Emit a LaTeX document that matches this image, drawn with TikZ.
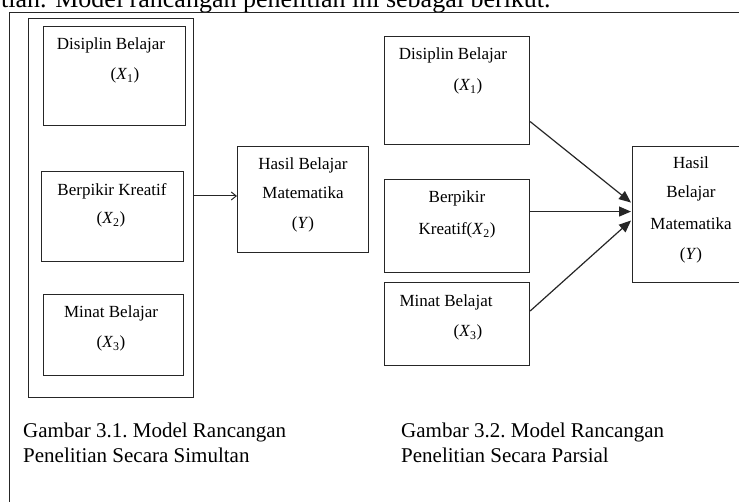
\documentclass[tikz,border=0pt]{standalone}
\usepackage{fontspec}
\setmainfont{Liberation Serif}
\usetikzlibrary{arrows.meta,calc,positioning}

\begin{document}
\begin{tikzpicture}[x=1pt, y=-1pt,
		box/.style={draw=black!85, line width=1.1pt, inner sep=0pt, anchor=north west},
		txt/.style={font=\fontsize{17}{20}\selectfont, anchor=base, inner sep=0pt},
		captxt/.style={font=\fontsize{21}{25}\selectfont, anchor=base west, inner sep=0pt, align=left},
		tri/.style={draw=black!85, line width=1.2pt, -{Triangle[length=12pt,width=10pt]}}]
		\useasboundingbox (0,0) rectangle (739,502);
		\clip (0,0) rectangle (739,502);
		\node[font=\fontsize{26}{30}\selectfont, anchor=base west, inner sep=0pt] (intro) at (1,8) {tian. Model rancangan penelitian ini sebagai berikut.};
		\node[box, minimum width=800pt, minimum height=560pt] (frame) at (9,12) {};
		\node[box, minimum width=165pt, minimum height=379pt] (sim) at (28,18) {};
		\node[box, minimum width=142pt, minimum height=99pt] (sx1) at (43,26) {};
		\node[box, minimum width=142pt, minimum height=90pt] (sx2) at (41,171) {};
		\node[box, minimum width=140pt, minimum height=81pt] (sx3) at (43,294) {};
		\node[box, minimum width=131pt, minimum height=106pt] (sy) at (237,146) {};
		\node[box, minimum width=145pt, minimum height=108pt] (px1) at (384,36) {};
		\node[box, minimum width=145pt, minimum height=93pt] (px2) at (384,179) {};
		\node[box, minimum width=145pt, minimum height=83pt] (px3) at (384,282) {};
		\node[box, minimum width=118pt, minimum height=136pt] (py) at (632,146) {};
		\node[txt] (sx1a) at (111,50) {Disiplin Belajar};
		\node[txt] (sx1b) at (125,80) {(\textit{X}\textsubscript{1})};
		\node[txt] (sx2a) at (112,196) {Berpikir Kreatif};
		\node[txt] (sx2b) at (111,224) {(\textit{X}\textsubscript{2})};
		\node[txt] (sx3a) at (111,318) {Minat Belajar};
		\node[txt] (sx3b) at (111,348) {(\textit{X}\textsubscript{3})};
		\node[txt] (sya) at (303,170) {Hasil Belajar};
		\node[txt] (syb) at (303,199) {Matematika};
		\node[txt] (syc) at (303,229) {(\textit{Y})};
		\node[txt] (px1a) at (453,60) {Disiplin Belajar};
		\node[txt] (px1b) at (468,91) {(\textit{X}\textsubscript{1})};
		\node[txt] (px2a) at (457,203) {Berpikir};
		\node[txt] (px2b) at (457,235) {Kreatif(\textit{X}\textsubscript{2})};
		\node[txt] (px3a) at (446,307) {Minat Belajat};
		\node[txt] (px3b) at (468,337) {(\textit{X}\textsubscript{3})};
		\node[txt] (pya) at (691,169) {Hasil};
		\node[txt] (pyb) at (691,198) {Belajar};
		\node[txt] (pyc) at (691,230) {Matematika};
		\node[txt] (pyd) at (691,260) {(\textit{Y})};
		\node[captxt] (cap1) at (23,462) {Gambar 3.1.\ Model Rancangan\\Penelitian Secara Simultan};
		\node[captxt] (cap2) at (401,462) {Gambar 3.2.\ Model Rancangan\\Penelitian Secara Parsial};
		\coordinate (simout) at (193,196);
		\draw[draw=black!85, line width=1pt, -{Straight Barb[length=5pt,width=8pt]}] (simout) -- (simout -| sy.west);
		\coordinate (t1) at ($(py.west)+(-1,-12)$);
		\coordinate (t2) at ($(py.west)+(-1,-3)$);
		\coordinate (t3) at ($(py.west)+(-1,6)$);
		\draw[tri] ($(px1.east)+(0,31)$) -- (t1);
		\draw[tri] (px2.east |- t2) -- (t2);
		\draw[tri] ($(px3.east)+(0,-13)$) -- (t3);
	\end{tikzpicture}
\end{document}
